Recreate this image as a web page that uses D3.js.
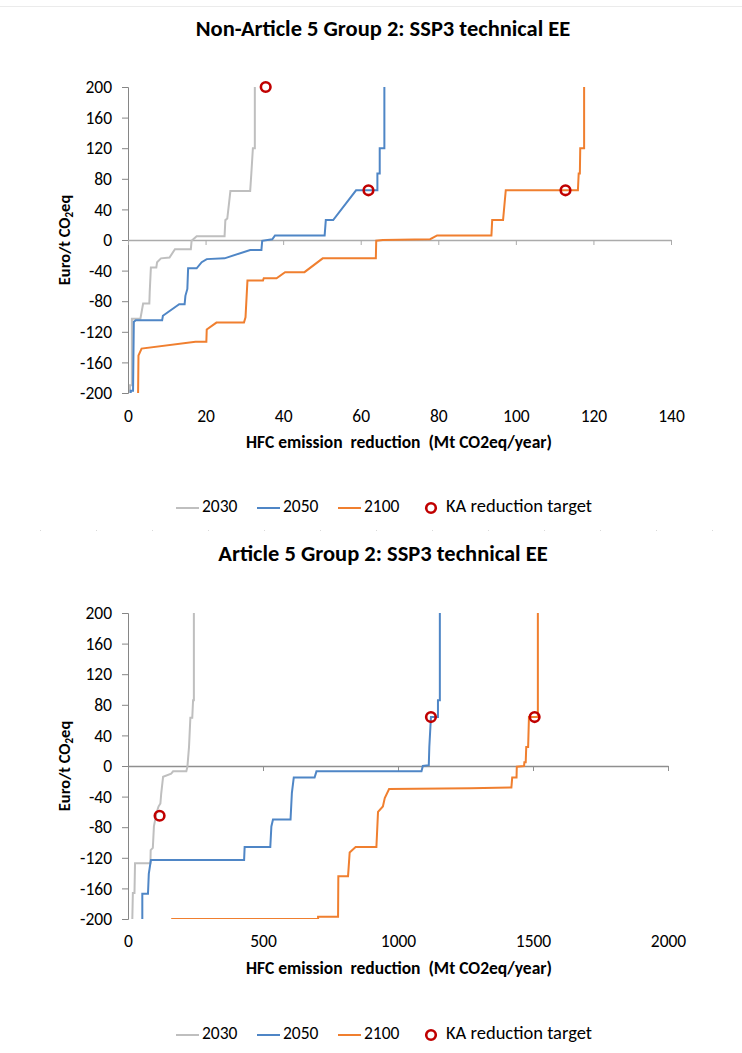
<!DOCTYPE html>
<html>
<head>
<meta charset="utf-8">
<script src="https://cdn.jsdelivr.net/npm/d3@7"></script>
<style>
  html, body { margin: 0; padding: 0; background: #fff; }
  svg { display: block; }
  text { font-family: Carlito, Calibri, Lato, "Open Sans", sans-serif; fill: #000; }
</style>
</head>
<body>
<svg id="chart" width="742" height="1053"></svg>
<script>
// ---------------- DATA ----------------
const seriesNames = ["2030", "2050", "2100"];
const targetName = "KA reduction target";
const yTickValues = [-200, -160, -120, -80, -40, 0, 40, 80, 120, 160, 200];

// Chart 1: Non-Article 5 Group 2
const title1 = "Non-Article 5 Group 2: SSP3 technical EE";
const xTicks1 = [0, 20, 40, 60, 80, 100, 120, 140];
const na5_2030_x = [0.5, 0.5, 1.0, 1.0, 3.2, 3.9, 5.5, 5.6, 5.9, 7.3, 7.5, 8.5, 10.7, 12.1, 16.2, 16.4, 17.7, 24.9, 25.1, 25.6, 26.4, 31.5, 31.8, 32.2, 32.7, 32.7];
const na5_2030_y = [-200, -190, -190, -103, -103, -83, -83, -68, -36, -36, -29, -24, -23, -12, -12, -1, 5, 5, 26, 28, 64, 64, 87, 120, 120, 200];
const na5_2050_x = [0.7, 0.7, 1.3, 1.5, 2.0, 8.8, 9.0, 13.2, 14.6, 14.8, 15.3, 15.5, 17.7, 19.0, 20.3, 24.9, 31.5, 34.4, 34.6, 37.2, 37.9, 50.7, 51.0, 52.9, 58.8, 64.3, 64.3, 64.9, 64.9, 66.1, 66.1];
const na5_2050_y = [-200, -197, -197, -107, -105, -105, -99, -84, -84, -73, -64, -37, -37, -29, -25, -24, -13, -13, -1, 1, 6, 6, 26, 26, 65, 65, 87, 87, 120, 120, 200];
const na5_2100_x = [2.6, 2.7, 3.5, 17.4, 20.2, 20.3, 22.8, 29.9, 30.3, 30.8, 34.8, 35.0, 38.3, 40.5, 45.5, 50.2, 63.9, 64.0, 65.7, 77.9, 79.7, 93.7, 93.9, 96.7, 97.4, 116.0, 116.2, 116.5, 116.6, 117.6, 117.6];
const na5_2100_y = [-200, -151, -142, -133, -133, -117, -108, -108, -101, -53, -53, -50, -50, -42, -42, -24, -24, -1, 0, 1, 6, 6, 26, 26, 65, 65, 87, 87, 120, 120, 200];
const na5_target_x = [35.5, 62.0, 112.8];
const na5_target_y = [200, 65, 65];

// Chart 2: Article 5 Group 2
const title2 = "Article 5 Group 2: SSP3 technical EE";
const xTicks2 = [0, 500, 1000, 1500, 2000];
const a5_2030_x = [16, 18, 24, 26, 83, 84, 92, 96, 105, 113, 120, 123, 130, 160, 167, 216, 220, 226, 231, 238, 241, 244, 244];
const a5_2030_y = [-200, -166, -166, -127, -127, -110, -107, -79, -62, -53, -49, -36, -14, -10, -7, -7, -1, 25, 63, 63, 86, 86, 200];
const a5_2050_x = [53, 53, 74, 77, 83, 85, 430, 432, 527, 531, 537, 602, 607, 614, 691, 698, 1087, 1092, 1114, 1116, 1122, 1148, 1148, 1155, 1155];
const a5_2050_y = [-200, -167, -167, -141, -127, -123, -123, -106, -106, -79, -70, -70, -35, -15, -15, -7, -7, 0, 1, 25, 64, 64, 86, 86, 200];
const a5_2100_x = [160, 704, 704, 778, 779, 815, 821, 843, 920, 926, 944, 951, 967, 1269, 1420, 1423, 1439, 1440, 1467, 1468, 1473, 1475, 1482, 1485, 1518, 1518];
const a5_2100_y = [-200, -200, -197, -197, -144, -144, -113, -106, -106, -60, -53, -42, -30, -29, -28, -15, -15, -1, 0, 5, 5, 25, 25, 64, 64, 200];
const a5_target_x = [117, 1122, 1506];
const a5_target_y = [-65, 64, 64];

const xAxisTitle = "HFC emission  reduction  (Mt CO2eq/year)";
// ---------------- STYLE / LAYOUT ----------------
const colors = { "2030": "#BFBFBF", "2050": "#4F86C6", "2100": "#F07F2F" };
const targetColor = "#C00000";
const zip = (xs, ys) => xs.map((x, i) => [x, ys[i]]);
const fmt = d => String(d); // plain hyphen-minus like the reference

const charts = [
  { title: title1, titleY: 31, xDomain: [0, 140], xTicks: xTicks1, left: 128, right: 671, top: 87, bottom: 393,
    series: [zip(na5_2030_x, na5_2030_y), zip(na5_2050_x, na5_2050_y), zip(na5_2100_x, na5_2100_y)],
    targets: zip(na5_target_x, na5_target_y), xLabelY: 418, xTitleY: 444, legendY: 508, zeroColor: "#ABABAB" },
  { title: title2, titleY: 556, xDomain: [0, 2000], xTicks: xTicks2, left: 128, right: 668, top: 613, bottom: 919,
    series: [zip(a5_2030_x, a5_2030_y), zip(a5_2050_x, a5_2050_y), zip(a5_2100_x, a5_2100_y)],
    targets: zip(a5_target_x, a5_target_y), xLabelY: 943, xTitleY: 970, legendY: 1035, zeroColor: "#8F8F8F" }
];

const FONT = "Carlito, Calibri, Lato, sans-serif";
const svg = d3.select("#chart");
// faint frame separators
svg.append("line").attr("x1", 0).attr("x2", 742).attr("y1", 6.5).attr("y2", 6.5)
  .attr("stroke", "#EBEBEB").attr("stroke-width", 1);
svg.append("line").attr("x1", 40).attr("x2", 742).attr("y1", 530.5).attr("y2", 530.5)
  .attr("stroke", "#D9D9D9").attr("stroke-width", 1).attr("stroke-dasharray", "1,55");

charts.forEach((c, ci) => {
  const g = svg.append("g");
  const x = d3.scaleLinear().domain(c.xDomain).range([c.left, c.right]);
  const y = d3.scaleLinear().domain([-200, 200]).range([c.bottom, c.top]);

  // title
  g.append("text").attr("x", 383).attr("y", c.titleY).attr("text-anchor", "middle")
    .attr("dominant-baseline", "middle").style("font-weight", "bold").style("font-size", "22.5px")
    .text(c.title);

  // y axis
  const yAxis = g.append("g").attr("transform", `translate(${c.left},0)`)
    .call(d3.axisLeft(y).tickValues(yTickValues).tickSize(6).tickPadding(10).tickFormat(fmt));
  yAxis.select(".domain").attr("stroke", "#868686");
  yAxis.selectAll(".tick line").attr("stroke", "#868686");
  yAxis.selectAll(".tick text").style("font-size", "17.5px").attr("fill", "#000").style("font-family", FONT);

  // x axis line at y=0 with ticks
  const xAxisLine = g.append("g").attr("transform", `translate(0,${y(0)})`)
    .call(d3.axisBottom(x).tickValues(c.xTicks).tickSize(5).tickSizeOuter(0).tickFormat(""));
  xAxisLine.select(".domain").attr("stroke", c.zeroColor).attr("stroke-width", 1.5);
  xAxisLine.selectAll(".tick line").attr("stroke", c.zeroColor);

  // x tick labels at the bottom
  const xLab = g.append("g").attr("transform", `translate(0,${c.xLabelY})`)
    .call(d3.axisBottom(x).tickValues(c.xTicks).tickSize(0).tickPadding(0).tickFormat(fmt));
  xLab.select(".domain").remove();
  xLab.selectAll(".tick text").attr("dy", null).attr("dominant-baseline", "middle")
    .style("font-size", "17.5px").attr("fill", "#000").style("font-family", FONT);

  // axis titles
  g.append("text").attr("x", 399).attr("y", c.xTitleY).attr("text-anchor", "middle")
    .attr("dominant-baseline", "middle").style("font-weight", "bold").style("font-size", "17.5px")
    .style("white-space", "pre").attr("xml:space", "preserve")
    .text(xAxisTitle);
  const yt = g.append("text").attr("transform", `translate(66,${(c.top + c.bottom) / 2}) rotate(-90)`)
    .attr("text-anchor", "middle").attr("dominant-baseline", "middle")
    .style("font-weight", "bold").style("font-size", "16.5px");
  yt.append("tspan").text("Euro/t CO");
  yt.append("tspan").text("2").style("font-size", "11px").attr("dy", 4);
  yt.append("tspan").text("eq").attr("dy", -4);

  // clip
  const clipId = "clip" + ci;
  svg.append("clipPath").attr("id", clipId).append("rect")
    .attr("x", c.left).attr("y", c.top).attr("width", c.right - c.left).attr("height", c.bottom - c.top);

  const line = d3.line().x(d => x(d[0])).y(d => y(d[1]));
  const plot = g.append("g").attr("clip-path", `url(#${clipId})`);
  c.series.forEach((s, si) => {
    plot.append("path").datum(s).attr("d", line).attr("fill", "none")
      .attr("stroke", colors[seriesNames[si]]).attr("stroke-width", 2).attr("stroke-linejoin", "miter");
  });
  g.selectAll("circle.t").data(c.targets).join("circle").attr("class", "t")
    .attr("cx", d => x(d[0])).attr("cy", d => y(d[1])).attr("r", 4.8)
    .attr("fill", "none").attr("stroke", targetColor).attr("stroke-width", 2.6);

  // legend
  const lg = g.append("g").attr("transform", `translate(0,${c.legendY})`);
  const lineStarts = [176, 257, 338];
  seriesNames.forEach((n, i) => {
    lg.append("line").attr("x1", lineStarts[i]).attr("x2", lineStarts[i] + 23).attr("y1", 0).attr("y2", 0)
      .attr("stroke", colors[n]).attr("stroke-width", 2);
    lg.append("text").attr("x", lineStarts[i] + 26).attr("y", 0).attr("dominant-baseline", "middle")
      .style("font-size", "17.5px").text(n);
  });
  lg.append("circle").attr("cx", 431).attr("cy", 0).attr("r", 4.8).attr("fill", "none")
    .attr("stroke", targetColor).attr("stroke-width", 2.6);
  lg.append("text").attr("x", 446).attr("y", 0).attr("dominant-baseline", "middle")
    .style("font-size", "18.5px").text(targetName);
});
</script>
</body>
</html>
